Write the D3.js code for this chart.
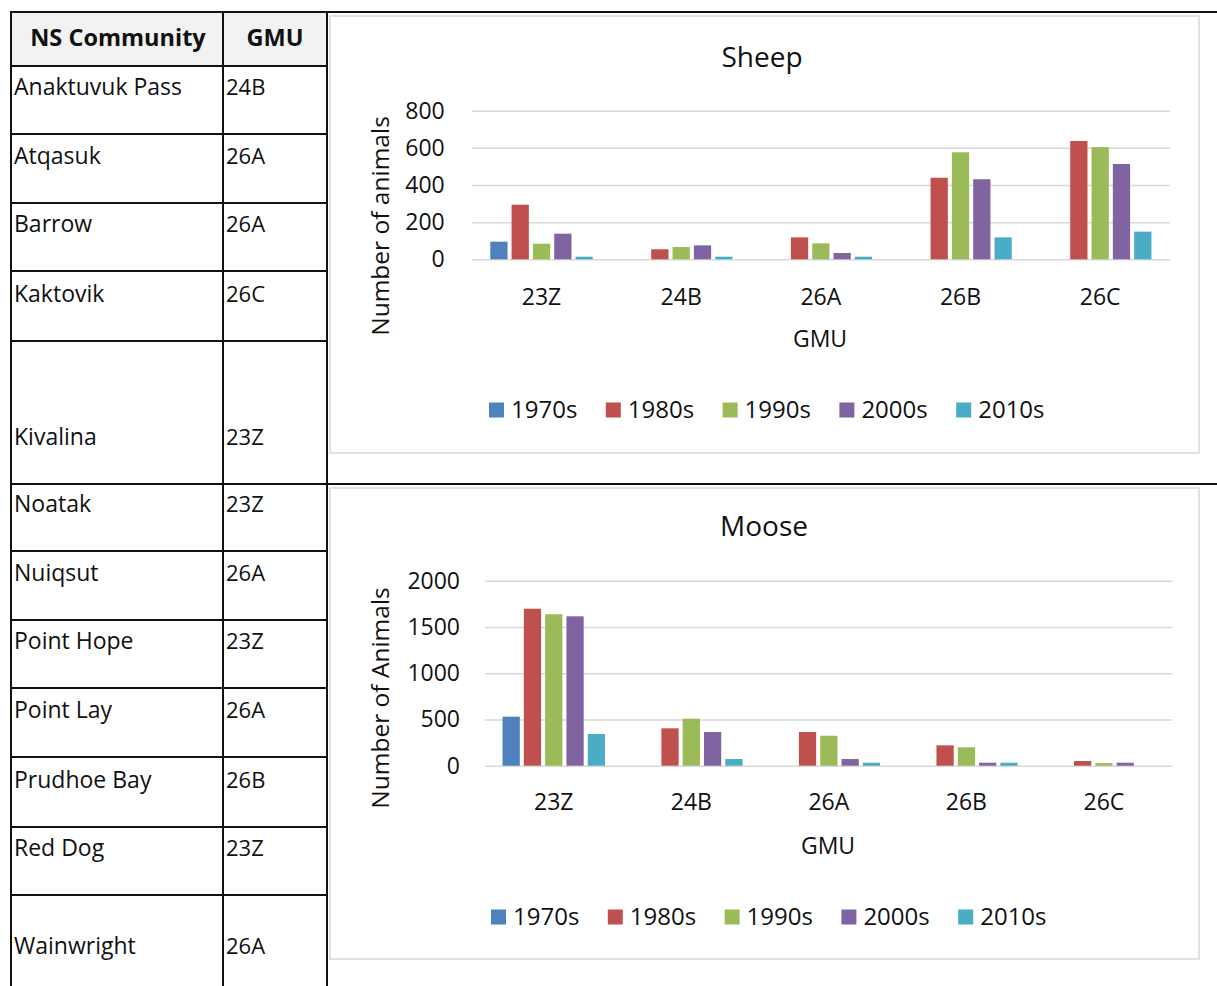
<!DOCTYPE html>
<html><head><meta charset="utf-8">
<script src="https://cdn.jsdelivr.net/npm/d3@7"></script>
<style>
html,body{margin:0;padding:0;background:#fff;}
svg{display:block;font-family:"Open Sans",sans-serif;}
</style></head>
<body>
<svg id="c" width="1217" height="986"></svg>
<script>
// ---- data ----
const communities = ["Anaktuvuk Pass","Atqasuk","Barrow","Kaktovik","Kivalina","Noatak","Nuiqsut","Point Hope","Point Lay","Prudhoe Bay","Red Dog","Wainwright"];
const communityGMU = ["24B","26A","26A","26C","23Z","23Z","26A","23Z","26A","26B","23Z","26A"];
const gmus = ["23Z","24B","26A","26B","26C"];
const decades = ["1970s","1980s","1990s","2000s","2010s"];
// values per decade, indexed by GMU (null = no bar)
const sheep1970s = [95, null, null, null, null];
const sheep1980s = [294, 54, 118, 439, 637];
const sheep1990s = [84, 66, 86, 576, 604];
const sheep2000s = [138, 75, 34, 431, 513];
const sheep2010s = [14, 14, 14, 118, 149];
const moose1970s = [530, null, null, null, null];
const moose1980s = [1697, 404, 364, 220, 51];
const moose1990s = [1637, 508, 324, 199, 28];
const moose2000s = [1615, 364, 72, 32, 32];
const moose2010s = [343, 72, 32, 32, null];
const sheepTicks = [0, 200, 400, 600, 800];
const mooseTicks = [0, 500, 1000, 1500, 2000];
const colors = ["#4f81bd","#c0504d","#9bbb59","#8064a2","#4bacc6"];

const FONT = "'Open Sans',sans-serif";
const svg = d3.select("#c");

// ---- table ----
const rowBottoms = [134,203,271,341,484,551,620,688,757,827,895,993];
const tbl = svg.append("g");
tbl.append("rect").attr("x",11).attr("y",12).attr("width",316).attr("height",54).attr("fill","#f2f2f2");
tbl.append("text").attr("x",118).attr("y",38).attr("dy","0.35em").attr("text-anchor","middle")
  .attr("font-weight","bold").attr("font-size",23.5).attr("fill","#111").text("NS Community");
tbl.append("text").attr("x",275).attr("y",38).attr("dy","0.35em").attr("text-anchor","middle")
  .attr("font-weight","bold").attr("font-size",23.5).attr("fill","#111").text("GMU");
communities.forEach((c,i)=>{
  const yb = rowBottoms[i];
  tbl.append("text").attr("x",14).attr("y",yb-47).attr("dy","0.35em").attr("font-size",23).attr("fill","#111").text(c);
  tbl.append("text").attr("x",226).attr("y",yb-47).attr("dy","0.35em").attr("font-size",22).attr("fill","#111").text(communityGMU[i]);
});
const hLines = [66,134,203,271,341,551,620,688,757,827,895];
hLines.forEach(y=>tbl.append("line").attr("x1",11).attr("x2",327).attr("y1",y).attr("y2",y).attr("stroke","#111").attr("stroke-width",2));
[12,484].forEach(y=>tbl.append("line").attr("x1",11).attr("x2",1217).attr("y1",y).attr("y2",y).attr("stroke","#111").attr("stroke-width",2));
[11,223,327].forEach(x=>tbl.append("line").attr("x1",x).attr("x2",x).attr("y1",11).attr("y2",986).attr("stroke","#111").attr("stroke-width",2));

// ---- charts ----
function drawChart(cfg){
  const g = svg.append("g");
  g.append("rect").attr("x",cfg.box[0]).attr("y",cfg.box[1]).attr("width",cfg.box[2]).attr("height",cfg.box[3])
    .attr("fill","#fff").attr("stroke","#d9d9d9").attr("stroke-width",1.5);
  const x0 = d3.scaleBand().domain(gmus).range([cfg.x0, cfg.x1]).paddingInner(cfg.pad).paddingOuter(cfg.pad/2);
  const x1 = d3.scaleBand().domain(decades).range([0, x0.bandwidth()]).paddingInner(0.19);
  const y = d3.scaleLinear().domain([0, cfg.ticks[cfg.ticks.length-1]]).range([cfg.y0, cfg.yTop]);
  // grid
  const yAxis = d3.axisLeft(y).tickValues(cfg.ticks).tickFormat(d3.format("d"))
    .tickSize(-(cfg.x1-cfg.x0)).tickPadding(cfg.yPad);
  const ya = g.append("g").attr("transform",`translate(${cfg.x0},0)`).call(yAxis);
  ya.select(".domain").remove();
  ya.selectAll(".tick line").attr("stroke","#d9d9d9").attr("stroke-width",1.5);
  ya.selectAll(".tick text").attr("font-size",23).attr("fill","#111").attr("font-family",FONT);
  // bars
  cfg.series.forEach((vals,si)=>{
    g.append("g").selectAll("rect").data(gmus.map((k,i)=>({k,v:vals[i]})).filter(d=>d.v!=null)).join("rect")
      .attr("x",d=>x0(d.k)+x1(decades[si]))
      .attr("width",x1.bandwidth())
      .attr("y",d=>y(d.v)).attr("height",d=>y(0)-y(d.v))
      .attr("fill",colors[si]);
  });
  // x axis
  const xAxis = d3.axisBottom(x0).tickSize(0).tickPadding(cfg.xPad);
  const xa = g.append("g").attr("transform",`translate(0,${cfg.y0})`).call(xAxis);
  xa.select(".domain").remove();
  xa.selectAll(".tick text").attr("font-size",23).attr("fill","#111").attr("font-family",FONT);
  // titles
  g.append("text").attr("x",cfg.titleX).attr("y",cfg.titleY).attr("dy","0.35em").attr("text-anchor","middle")
    .attr("font-size",28).attr("fill","#111").text(cfg.title);
  g.append("text").attr("x",cfg.xLabX).attr("y",cfg.xLabY).attr("dy","0.35em").attr("text-anchor","middle")
    .attr("font-size",23).attr("fill","#111").text("GMU");
  g.append("text").attr("transform",`translate(${cfg.yLabX},${cfg.yLabY}) rotate(-90)`).attr("dy","0.35em")
    .attr("text-anchor","middle").attr("font-size",24.5).attr("fill","#111").text(cfg.yLabel);
  // legend
  const lg = g.append("g");
  decades.forEach((d,i)=>{
    const lx = cfg.legX + i*116.8;
    lg.append("rect").attr("x",lx).attr("y",cfg.legY-7.5).attr("width",15).attr("height",15).attr("fill",colors[i]);
    lg.append("text").attr("x",lx+22).attr("y",cfg.legY).attr("dy","0.35em").attr("font-size",24).attr("fill","#111").text(d);
  });
}

drawChart({
  box:[330,16,869,437], x0:471.7, x1:1170, y0:259.3, yTop:110.7, pad:0.266, yPad:27, xPad:29,
  ticks:sheepTicks, series:[sheep1970s,sheep1980s,sheep1990s,sheep2000s,sheep2010s],
  title:"Sheep", titleX:762, titleY:57, xLabX:820, xLabY:339, yLabX:380, yLabY:226,
  yLabel:"Number of animals", legX:489, legY:410
});
drawChart({
  box:[330,488,869,471], x0:485, x1:1172.7, y0:765.7, yTop:580.7, pad:0.255, yPad:25, xPad:28,
  ticks:mooseTicks, series:[moose1970s,moose1980s,moose1990s,moose2000s,moose2010s],
  title:"Moose", titleX:764, titleY:526, xLabX:828, xLabY:846, yLabX:380, yLabY:698,
  yLabel:"Number of Animals", legX:491, legY:917
});
</script>
</body></html>
